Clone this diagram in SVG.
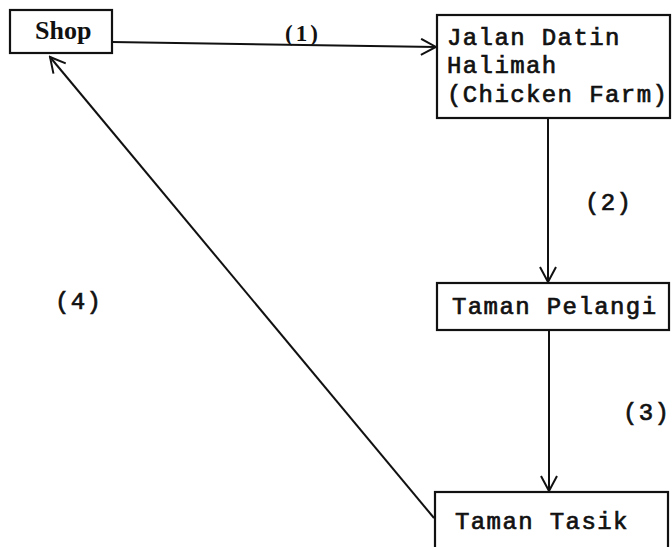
<svg xmlns="http://www.w3.org/2000/svg" width="672" height="547" viewBox="0 0 672 547">
  <style>
    .box { fill: #fff; stroke: #111; stroke-width: 2.2; }
    .tw { font-family: "Liberation Mono", "DejaVu Sans Mono", monospace; font-size: 24px; font-weight: normal; letter-spacing: 1.4px; fill: #111; stroke: #111; stroke-width: 0.7; }
    .bd { font-family: "Liberation Serif", "DejaVu Serif", serif; font-weight: bold; fill: #111; }
    .edge { fill: none; stroke: #111; stroke-width: 2; }
  </style>
  <defs>
    <marker id="arrow" viewBox="-16 -9 18 18" refX="0" refY="0" markerWidth="18" markerHeight="18" markerUnits="userSpaceOnUse" orient="auto">
      <path d="M-15,-8 L0,0 L-15,8" fill="none" stroke="#111" stroke-width="2"/>
    </marker>
  </defs>

  <!-- connectors -->
  <g id="connectors">
    <line class="edge" x1="112" y1="42" x2="436" y2="47" marker-end="url(#arrow)"/>
    <text class="bd" x="285" y="41" font-size="23" letter-spacing="3">(1)</text>
    <line class="edge" x1="548" y1="118" x2="548" y2="282" marker-end="url(#arrow)"/>
    <text class="tw" x="585" y="210">(2)</text>
    <line class="edge" x1="549" y1="330" x2="549" y2="491" marker-end="url(#arrow)"/>
    <text class="tw" x="623" y="420">(3)</text>
    <line class="edge" x1="434" y1="518" x2="50" y2="57" marker-end="url(#arrow)"/>
    <text class="tw" x="55" y="309">(4)</text>
  </g>

  <!-- nodes -->
  <g id="shop">
    <rect class="box" x="10" y="10" width="102" height="43"/>
    <text class="bd" x="35" y="39" font-size="26">Shop</text>
  </g>
  <g id="chicken-farm">
    <rect class="box" x="437" y="15" width="233" height="103"/>
    <text class="tw" x="447" y="45">Jalan Datin</text>
    <text class="tw" x="447" y="73">Halimah</text>
    <text class="tw" x="447" y="102">(Chicken Farm)</text>
  </g>
  <g id="taman-pelangi">
    <rect class="box" x="437" y="283" width="232" height="47"/>
    <text class="tw" x="452" y="314">Taman Pelangi</text>
  </g>
  <g id="taman-tasik">
    <rect class="box" x="435" y="492" width="233" height="60"/>
    <text class="tw" x="455" y="529">Taman Tasik</text>
  </g>
</svg>
